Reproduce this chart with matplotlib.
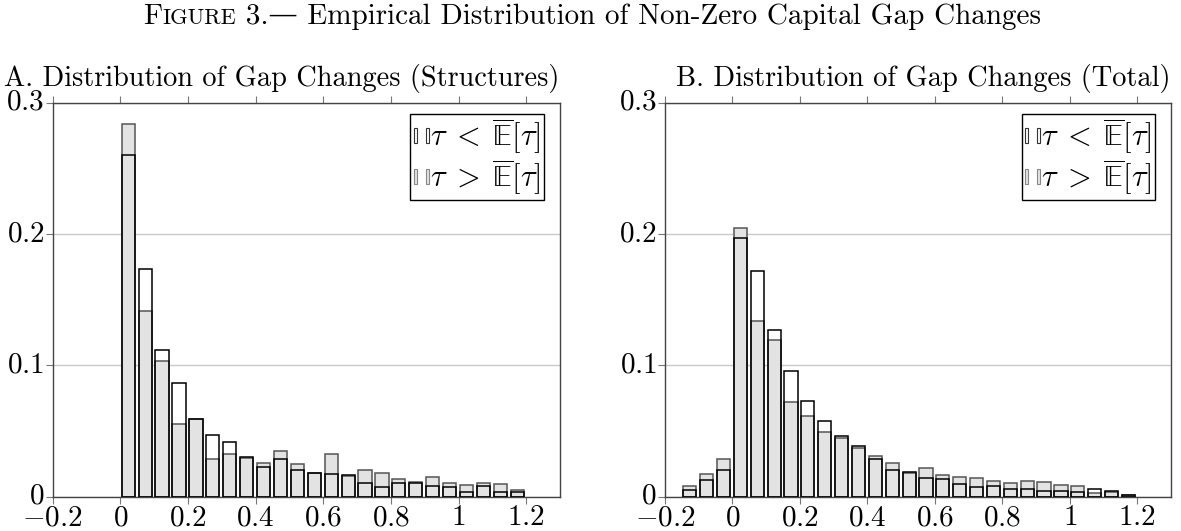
import matplotlib
matplotlib.use("Agg")
import matplotlib.pyplot as plt
from matplotlib.patches import Patch
from matplotlib.legend_handler import HandlerTuple
from matplotlib.ticker import FuncFormatter

plt.rcParams['font.family'] = ['cmr10', 'DejaVu Serif']
plt.rcParams['mathtext.fontset'] = 'cm'
plt.rcParams['axes.formatter.use_mathtext'] = True

# bins (left edges), width 0.05
bins_a = [0.00, 0.05, 0.10, 0.15, 0.20, 0.25, 0.30, 0.35, 0.40, 0.45, 0.50, 0.55,
          0.60, 0.65, 0.70, 0.75, 0.80, 0.85, 0.90, 0.95, 1.00, 1.05, 1.10, 1.15]
low_a = [0.260, 0.173, 0.1117, 0.0866, 0.0594, 0.047, 0.0414, 0.0305, 0.0226, 0.0285,
         0.0203, 0.0183, 0.0172, 0.0165, 0.0104, 0.0074, 0.0107, 0.0104, 0.0084, 0.0076,
         0.0036, 0.0081, 0.0033, 0.0033]
high_a = [0.284, 0.1417, 0.1034, 0.0551, 0.0588, 0.0287, 0.0323, 0.0295, 0.0254, 0.0348,
          0.0249, 0.0178, 0.0327, 0.0160, 0.0203, 0.0178, 0.0135, 0.0114, 0.0152, 0.0107,
          0.0089, 0.0102, 0.0097, 0.0049]

bins_b = [-0.15, -0.10, -0.05, 0.00, 0.05, 0.10, 0.15, 0.20, 0.25, 0.30, 0.35, 0.40,
          0.45, 0.50, 0.55, 0.60, 0.65, 0.70, 0.75, 0.80, 0.85, 0.90, 0.95, 1.00,
          1.05, 1.10, 1.15]
low_b = [0.0051, 0.0127, 0.0206, 0.1973, 0.1716, 0.1267, 0.0954, 0.0726, 0.0579, 0.0462,
         0.0386, 0.0284, 0.0203, 0.0187, 0.0139, 0.0132, 0.0094, 0.0074, 0.0084, 0.0061,
         0.0061, 0.0046, 0.0043, 0.0036, 0.0061, 0.0046, 0.0015]
high_b = [0.0084, 0.0173, 0.0289, 0.2046, 0.1336, 0.1191, 0.0721, 0.0615, 0.0490, 0.0447,
          0.0374, 0.0313, 0.0254, 0.0180, 0.0218, 0.0168, 0.0148, 0.0140, 0.0117, 0.0102,
          0.0119, 0.0112, 0.0091, 0.0079, 0.0028, 0.0036, 0.0012]

xticks = [-0.2, 0, 0.2, 0.4, 0.6, 0.8, 1.0, 1.2]
yticks = [0, 0.1, 0.2, 0.3]
lab_low = r'$\tau\;<\;\overline{\mathrm{\mathbb{E}}}[\tau]$'
lab_high = r'$\tau\;>\;\overline{\mathrm{\mathbb{E}}}[\tau]$'

fig = plt.figure(figsize=(11.81, 5.31), dpi=100)
ax1 = fig.add_axes([0.0446, 0.0646, 0.4296, 0.742])
ax2 = fig.add_axes([0.5631, 0.0646, 0.4285, 0.742])

gray = '#e3e3e3'

def panel(ax, bins, low, high, title):
    xs = [b + 0.004 for b in bins]
    ax.bar(xs, high, width=0.039, align='edge', color=gray, edgecolor='#555555', linewidth=1.1, zorder=2)
    ax.bar(xs, low, width=0.039, align='edge', color='none', edgecolor='black', linewidth=1.1, zorder=3)
    ax.set_xlim(-0.2, 1.3)
    ax.set_ylim(0, 0.3)
    ax.set_xticks(xticks)
    ax.set_yticks(yticks)
    f = FuncFormatter(lambda v, p: '$%g$' % round(v, 2))
    ax.xaxis.set_major_formatter(f)
    ax.yaxis.set_major_formatter(f)
    ax.tick_params(axis='both', labelsize=21, direction='out', length=5, width=0.8,
                   color='#777777', pad=1)
    ax.tick_params(axis='x', top=True)
    ax.grid(axis='y', color='#c8c8c8', linewidth=1, zorder=0)
    ax.set_axisbelow(True)
    for s in ax.spines.values():
        s.set_color('#444444')
        s.set_linewidth(1)
    for lbl in ax.get_yticklabels():
        lbl.set_verticalalignment('center')
    ax.set_title(title, fontsize=20.4, loc='right', x=0.998, pad=12)
    h1 = (Patch(facecolor='white', edgecolor='#333333', linewidth=0.8),
          Patch(facecolor='white', edgecolor='#333333', linewidth=0.8))
    h2 = (Patch(facecolor=gray, edgecolor='#888888', linewidth=0.8),
          Patch(facecolor=gray, edgecolor='#888888', linewidth=0.8))
    leg = ax.legend([h1, h2], [lab_low, lab_high], handler_map={tuple: HandlerTuple(ndivide=None, pad=0.3)},
                    loc='upper right', bbox_to_anchor=(0.968, 0.972),
                    prop={'size': 22},
                    handlelength=0.5, handleheight=0.35, handletextpad=0.05,
                    borderpad=0.1, labelspacing=0.05, borderaxespad=0,
                    fancybox=False, framealpha=1)
    leg.get_frame().set_edgecolor('black')
    leg.get_frame().set_linewidth(1)

panel(ax1, bins_a, low_a, high_a, 'A. Distribution of Gap Changes (Structures)')
panel(ax2, bins_b, low_b, high_b, 'B. Distribution of Gap Changes (Total)')

# title with small caps "Figure"
r = fig.canvas.get_renderer()
parts = [('F', 21), ('IGURE', 16), (' 3.\u2014 Empirical Distribution of Non-Zero Capital Gap Changes', 21)]
texts = []
for s, sz in parts:
    texts.append(fig.text(0, 0.955, s, fontsize=sz, va='baseline', ha='left'))
widths = [t.get_window_extent(r).width for t in texts]
total = sum(widths)
x = (1181 - total) / 2 + 2
for t, w in zip(texts, widths):
    t.set_x(x / 1181)
    x += w

fig.savefig('out.png', dpi=100)
